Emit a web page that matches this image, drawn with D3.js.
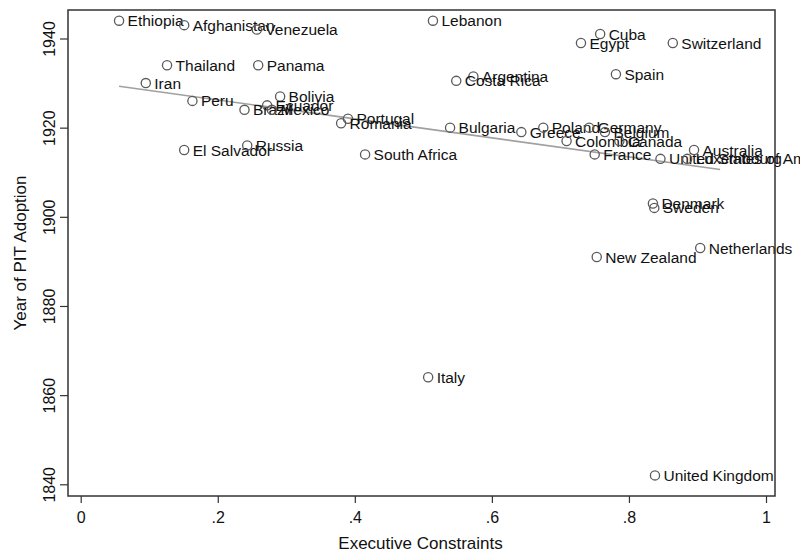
<!DOCTYPE html>
<html><head><meta charset="utf-8">
<script src="https://cdnjs.cloudflare.com/ajax/libs/d3/7.8.5/d3.min.js"></script>
<style>body{margin:0;background:#fff;} svg{display:block;font-family:"Liberation Sans",Arial,Helvetica,sans-serif;}</style>
</head><body>
<svg id="c" width="800" height="557"></svg>
<script>
const countries = ["Ethiopia","Afghanistan","Venezuela","Lebanon","Cuba","Egypt","Switzerland","Thailand","Panama","Iran","Argentina","Costa Rica","Spain","Peru","Bolivia","Ecuador","Brazil","Mexico","Portugal","Romania","Bulgaria","Greece","Poland","Germany","Colombia","Belgium","Canada","France","United States of America","Luxembourg","Australia","South Africa","El Salvador","Russia","Denmark","Sweden","New Zealand","Netherlands","Italy","United Kingdom"];
const constraints = [0.056,0.151,0.257,0.514,0.758,0.730,0.864,0.126,0.259,0.095,0.573,0.548,0.781,0.163,0.291,0.272,0.239,0.279,0.390,0.380,0.539,0.643,0.675,0.742,0.709,0.765,0.786,0.750,0.846,0.885,0.895,0.415,0.151,0.243,0.835,0.837,0.753,0.904,0.507,0.838];
const pitYear = [1944,1943,1942,1944,1941,1939,1939,1934,1934,1930,1931.5,1930.5,1932,1926,1927,1925,1924,1924,1922,1921,1920,1919,1920,1920,1917,1919,1917,1914,1913,1913,1915,1914,1915,1916,1903,1902,1891,1893,1864,1842];
const fitX = [0.056, 0.933];
const fitY = [1929.3, 1910.6];
const xTicks = [0, 0.2, 0.4, 0.6, 0.8, 1];
const xTickLabels = ["0", ".2", ".4", ".6", ".8", "1"];
const yTicks = [1840, 1860, 1880, 1900, 1920, 1940];

const svg = d3.select("#c");
const x = d3.scaleLinear().domain([0, 1]).range([80.7, 766]);
const y = d3.scaleLinear().domain([1840, 1940]).range([484.3, 38.5]);
const L = 68, R = 775, T = 10, B = 496;

// fit line
svg.append("line")
  .attr("x1", x(fitX[0])).attr("y1", y(fitY[0]))
  .attr("x2", x(fitX[1])).attr("y2", y(fitY[1]))
  .attr("stroke", "#a0a0a0").attr("stroke-width", 1.6);

// points + labels
const data = countries.map((c, i) => ({c, x: constraints[i], y: pitYear[i]}));
const g = svg.append("g");
data.forEach(d => {
  g.append("circle").attr("cx", x(d.x)).attr("cy", y(d.y)).attr("r", 4.6)
    .attr("fill", "none").attr("stroke", "#5a5a5a").attr("stroke-width", 1.3);
  g.append("text").attr("x", x(d.x) + 8.5).attr("y", y(d.y)).attr("dy", "0.36em")
    .attr("font-size", 15.5).attr("fill", "#111").text(d.c);
});

// frame
svg.append("rect").attr("x", L).attr("y", T).attr("width", R - L).attr("height", B - T)
  .attr("fill", "none").attr("stroke", "#333").attr("stroke-width", 1.5);

// x axis
const xa = svg.append("g").attr("transform", `translate(0,${B})`)
  .call(d3.axisBottom(x).tickValues(xTicks).tickFormat((d, i) => xTickLabels[i]).tickSize(7).tickPadding(9));
xa.select(".domain").remove();
xa.selectAll("line").attr("stroke", "#333").attr("stroke-width", 1.2);
xa.selectAll("text").attr("font-size", 16).attr("fill", "#111").attr("font-family", "Liberation Sans, Arial, sans-serif");

// y axis
const ya = svg.append("g").attr("transform", `translate(${L},0)`)
  .call(d3.axisLeft(y).tickValues(yTicks).tickFormat(d3.format("d")).tickSize(8).tickPadding(4));
ya.select(".domain").remove();
ya.selectAll("line").attr("stroke", "#333").attr("stroke-width", 1.2);
ya.selectAll("text").attr("font-size", 16).attr("fill", "#111")
  .attr("text-anchor", "middle").attr("x", 0).attr("dy", 0)
  .attr("transform", "translate(-13,0) rotate(-90)")
  .attr("font-family", "Liberation Sans, Arial, sans-serif");

// titles
svg.append("text").attr("x", (L + R) / 2 - 1).attr("y", 549).attr("text-anchor", "middle")
  .attr("font-size", 17).attr("fill", "#111").text("Executive Constraints");
svg.append("text").attr("transform", `translate(26,${(T + B) / 2}) rotate(-90)`).attr("text-anchor", "middle")
  .attr("font-size", 17).attr("fill", "#111").text("Year of PIT Adoption");
</script>
</body></html>
